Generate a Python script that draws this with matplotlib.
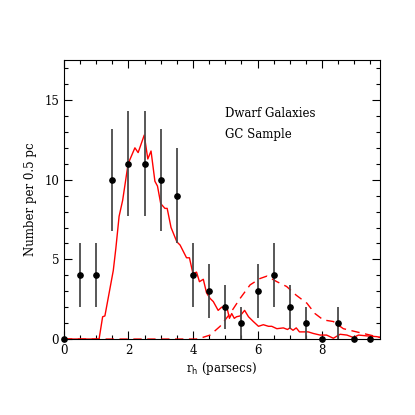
import matplotlib
import numpy as np

matplotlib.use('Agg')
import matplotlib.pyplot as plt
from matplotlib.ticker import MultipleLocator

# binned GC counts (0.5 pc bins) with Poisson errors
r_bins = [0.0, 0.5, 1.0, 1.5, 2.0, 2.5, 3.0, 3.5, 4.0, 4.5,
          5.0, 5.5, 6.0, 6.5, 7.0, 7.5, 8.0, 8.5, 9.0, 9.5]
counts = [0, 4, 4, 10, 11, 11, 10, 9, 4, 3,
          2, 1, 3, 4, 2, 1, 0, 1, 0, 0]
errors = [0, 2, 2, 3.2, 3.3, 3.3, 3.2, 3.0, 2, 1.7,
          1.4, 1, 1.7, 2, 1.4, 1, 0, 1, 0, 0]

# dwarf galaxy distribution (solid)
dwarf_r = [0.0, 1.09, 1.2, 1.27, 1.53, 1.61, 1.71, 1.82, 1.99, 2.2, 2.3, 2.49, 2.6,
           2.7, 2.82, 2.9, 3.0, 3.13, 3.2, 3.32, 3.5, 3.6, 3.8, 3.89, 4.0, 4.11,
           4.2, 4.32, 4.42, 4.53, 4.63, 4.78, 4.89, 5.05, 5.13, 5.2, 5.28, 5.35,
           5.46, 5.6, 5.72, 5.87, 6.03, 6.18, 6.34, 6.44, 6.6, 6.8, 6.93, 7.0,
           7.1, 7.2, 7.3, 7.57, 7.73, 7.94, 8.14, 8.35, 8.56, 8.77, 8.97, 9.13,
           9.38, 9.7, 9.8]
dwarf_n = [0.0, 0.0, 1.4, 1.45, 4.3, 5.7, 7.7, 8.7, 11.0, 12.0, 11.7, 12.8, 11.3,
           11.8, 9.9, 9.6, 8.5, 8.2, 8.2, 7.0, 6.1, 5.9, 5.1, 5.1, 4.1, 4.2,
           3.6, 3.75, 2.9, 2.55, 2.35, 1.8, 2.0, 2.0, 1.3, 1.6, 1.3, 1.4,
           1.45, 1.8, 1.4, 1.1, 0.8, 0.9, 0.8, 0.8, 0.65, 0.7, 0.6, 0.7,
           0.55, 0.7, 0.45, 0.45, 0.35, 0.25, 0.25, 0.05, 0.3, 0.25, 0.1, 0.25,
           0.2, 0.15, 0.1]

# comparison distribution (dashed)
comp_r = [0.0, 4.1, 4.22, 4.53, 4.84, 5.15, 5.46, 5.77, 6.08, 6.29, 6.6, 6.9,
          7.2, 7.53, 7.78, 8.04, 8.35, 8.66, 9.07, 9.49, 9.8]
comp_n = [0.0, 0.0, 0.05, 0.25, 0.8, 1.6, 2.55, 3.4, 3.8, 3.95, 3.6, 3.3,
          2.75, 2.25, 1.6, 1.2, 1.1, 0.65, 0.45, 0.25, 0.1]

plt.rcParams['font.family'] = 'DejaVu Serif'
plt.rcParams['font.size'] = 8.5

figure = plt.figure(figsize=(4.15, 4.15), dpi=100)
axis = figure.add_axes([0.154, 0.183, 0.762, 0.672])

axis.plot(dwarf_r, dwarf_n, color='red', linewidth=1.0)
axis.plot(comp_r, comp_n, color='red', linewidth=1.0, linestyle=(0, (6, 4)))
axis.errorbar(r_bins, counts, yerr=errors, fmt='o', color='black',
              markersize=3.8, ecolor='#4a4a4a', elinewidth=1.3, capsize=0,
              clip_on=False, zorder=3)

axis.set_xlim(0, 9.8)
axis.set_ylim(0, 17.5)
axis.xaxis.set_major_locator(MultipleLocator(2))
axis.xaxis.set_minor_locator(MultipleLocator(0.5))
axis.yaxis.set_major_locator(MultipleLocator(5))
axis.yaxis.set_minor_locator(MultipleLocator(1))
axis.tick_params(which='both', direction='in', top=True, right=True, width=0.8)
axis.tick_params(which='major', length=6, pad=3.5)
axis.tick_params(which='minor', length=3)
for spine in axis.spines.values():
    spine.set_linewidth(0.8)

axis.set_xlabel(r'r$_{\rm h}$ (parsecs)', labelpad=2)
axis.set_ylabel('Number per 0.5 pc', labelpad=5)
axis.text(0.51, 0.81, 'Dwarf Galaxies', transform=axis.transAxes, va='center')
axis.text(0.51, 0.735, 'GC Sample', transform=axis.transAxes, va='center')

figure.savefig('out.png', dpi=100)
plt.close(figure)
